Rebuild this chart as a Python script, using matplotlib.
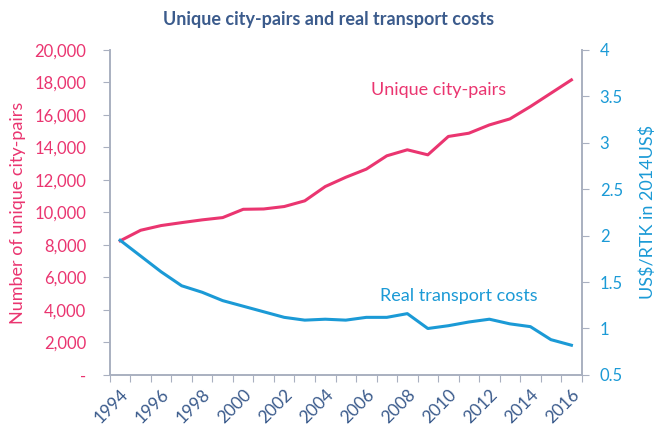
import matplotlib.pyplot as plt
from matplotlib.ticker import FuncFormatter

# Data
years = list(range(1994, 2017))
city_pairs = [8250, 8900, 9190, 9370, 9540, 9680, 10190, 10210, 10360, 10710,
              11590, 12160, 12660, 13480, 13850, 13540, 14670, 14870, 15380,
              15750, 16510, 17330, 18150]
transport_costs = [1.95, 1.78, 1.61, 1.46, 1.39, 1.30, 1.24, 1.18, 1.12, 1.09,
                   1.10, 1.09, 1.12, 1.12, 1.16, 1.00, 1.03, 1.07, 1.10, 1.05,
                   1.02, 0.88, 0.82]

pink = '#EA3570'
blue = '#1B9AD6'
navy = '#3B5B8C'
grey = '#A9B0C0'

plt.rcParams['font.family'] = ['Lato', 'DejaVu Sans']

fig = plt.figure(figsize=(6.58, 4.37), dpi=100)
ax = fig.add_axes([0.167, 0.142, 0.717, 0.744])
ax2 = ax.twinx()

x = list(range(len(years)))
ax.plot(x, city_pairs, color=pink, lw=2.2, zorder=3)
ax2.plot(x, transport_costs, color=blue, lw=2.2, zorder=3)

ax.set_xlim(-0.5, len(years) - 0.5)
ax.set_ylim(0, 20000)
ax2.set_ylim(0.5, 4)

# category boundaries as ticks, labels centred on every other year
ax.set_xticks([i - 0.5 for i in range(len(years) + 1)])
ax.set_xticklabels([])
ax.set_xticks(x[::2], minor=True)
ax.set_xticklabels([str(y) for y in years[::2]], minor=True,
                   rotation=45, ha='right', rotation_mode='anchor',
                   color=navy, fontsize=12.5)
ax.tick_params(axis='x', which='major', length=5, color=grey, direction='out')
ax.tick_params(axis='x', which='minor', length=0, pad=8)

ax.set_yticks(range(0, 20001, 2000))
ax.yaxis.set_major_formatter(FuncFormatter(lambda v, p: '-' if v == 0 else f'{int(v):,}'))
ax.tick_params(axis='y', colors=grey, labelcolor=pink, labelsize=12, length=5, pad=12)

ax2.set_yticks([0.5, 1, 1.5, 2, 2.5, 3, 3.5, 4])
ax2.set_yticklabels(['0.5', '1', '1.5', '2', '2.5', '3', '3.5', '4'])
ax2.tick_params(axis='y', colors=grey, labelcolor=blue, labelsize=12, length=5, pad=8)

for a in (ax, ax2):
    a.spines['top'].set_visible(False)
    for s in ('left', 'right', 'bottom'):
        a.spines[s].set_color(grey)
        a.spines[s].set_linewidth(1.2)

ax.set_ylabel('Number of unique city-pairs', color=pink, fontsize=13, labelpad=6)
ax2.set_ylabel(r'US\$/RTK in 2014US\$', color=blue, fontsize=13, labelpad=12)

ax.text(15.5, 17500, 'Unique city-pairs', color=pink, fontsize=13, ha='center', va='center')
ax2.text(16.5, 1.35, 'Real transport costs', color=blue, fontsize=13, ha='center', va='center')

fig.suptitle('Unique city-pairs and real transport costs', color=navy,
             fontsize=13, fontweight='bold', x=0.5, y=0.975)

fig.savefig('out.png', dpi=100)
